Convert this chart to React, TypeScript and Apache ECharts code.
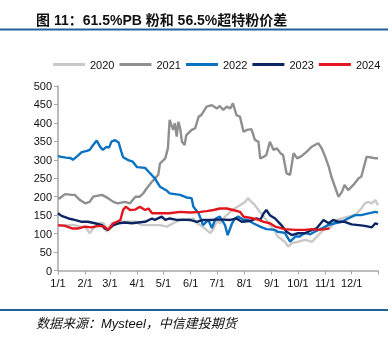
import React, { useEffect, useRef } from "react";
import * as echarts from "echarts";

// Day-of-year (0 = 1/1) and value pairs
const monthLengths = [31, 28, 31, 30, 31, 30, 31, 31, 30, 31, 30, 31];
const yTicks = { min: 0, max: 500, interval: 50 };
const seriesNames = ["2020", "2021", "2022", "2023", "2024"];

const s2020: [number, number][] = [
  [0, 120], [5, 123], [11, 123], [19, 123], [25, 119], [31, 119], [36, 101], [42, 119], [46, 128],
  [52, 128], [55, 105], [61, 128], [72, 132], [88, 132], [95, 123], [110, 123], [116, 123], [124, 119],
  [131, 128], [139, 137], [146, 137], [154, 141], [158, 128], [162, 123], [167, 114], [173, 101],
  [177, 114], [181, 137], [184, 128], [190, 146], [196, 159], [201, 168], [207, 177], [213, 186],
  [216, 196], [220, 186], [224, 177], [228, 164], [234, 146], [237, 137], [241, 123], [247, 105],
  [250, 92], [258, 78], [262, 65], [266, 74], [273, 78], [281, 83], [289, 78], [296, 96], [304, 114],
  [311, 119], [317, 137], [323, 141], [330, 146], [338, 150], [345, 168], [349, 182], [353, 186],
  [357, 182], [361, 191], [364, 177],
];

const s2021: [number, number][] = [
  [0, 196], [2, 196], [8, 207], [16, 205], [19, 205], [25, 191], [31, 182], [36, 186], [40, 200],
  [50, 205], [57, 196], [63, 186], [68, 182], [76, 186], [82, 182], [88, 200], [93, 200], [97, 209],
  [101, 223], [107, 241], [114, 259], [116, 290], [122, 304], [125, 331], [127, 408], [131, 381],
  [133, 399], [135, 363], [137, 403], [139, 385], [141, 349], [144, 340], [146, 367], [152, 381],
  [156, 385], [160, 417], [163, 421], [169, 444], [175, 448], [181, 439], [184, 446], [188, 435],
  [192, 444], [196, 439], [199, 453], [203, 421], [207, 417], [211, 376], [215, 381], [220, 383],
  [224, 354], [228, 349], [230, 304], [234, 308], [237, 313], [241, 349], [245, 327], [249, 331],
  [253, 318], [256, 313], [260, 263], [264, 259], [268, 318], [272, 304], [277, 310], [283, 322],
  [289, 336], [296, 345], [300, 331], [304, 308], [308, 281], [311, 254], [315, 227], [319, 200],
  [323, 213], [326, 232], [330, 218], [336, 232], [342, 250], [345, 254], [351, 308], [355, 307],
  [361, 304], [364, 304],
];

const s2022: [number, number][] = [
  [0, 310], [4, 308], [9, 306], [14, 305], [17, 300], [22, 310], [27, 321], [33, 324], [36, 327],
  [40, 340], [44, 352], [48, 335], [51, 327], [55, 335], [58, 333], [61, 350], [65, 353], [69, 347],
  [72, 322], [74, 307], [80, 299], [85, 295], [90, 280], [99, 278], [105, 263], [110, 250], [116, 227],
  [124, 216], [127, 209], [139, 205], [146, 198], [152, 196], [154, 173], [160, 155], [165, 123],
  [171, 137], [175, 115], [179, 140], [184, 146], [190, 123], [193, 96], [198, 128], [201, 140],
  [205, 146], [210, 139], [216, 137], [222, 128], [230, 119], [237, 112], [247, 110], [250, 105],
  [258, 102], [264, 78], [270, 92], [275, 92], [281, 102], [287, 98], [292, 105], [300, 114],
  [307, 123], [315, 128], [323, 132], [330, 141], [338, 150], [345, 150], [353, 155], [361, 159],
  [364, 157],
];

const s2023: [number, number][] = [
  [0, 155], [4, 148], [12, 141], [19, 137], [27, 132], [34, 132], [42, 128], [50, 123], [53, 114],
  [57, 110], [63, 123], [69, 128], [76, 130], [84, 128], [91, 130], [99, 132], [107, 141], [110, 137],
  [118, 146], [122, 137], [127, 141], [135, 137], [143, 138], [150, 137], [158, 132], [165, 137],
  [173, 137], [181, 138], [188, 138], [196, 137], [203, 141], [209, 132], [218, 134], [226, 141],
  [230, 137], [234, 155], [237, 164], [241, 150], [247, 141], [254, 123], [260, 105], [266, 96],
  [273, 101], [281, 101], [289, 110], [294, 114], [302, 137], [308, 128], [313, 137], [319, 132],
  [326, 132], [334, 125], [342, 123], [349, 121], [357, 117], [361, 128], [364, 125],
];

const s2024: [number, number][] = [
  [0, 123], [8, 121], [16, 114], [23, 114], [31, 119], [38, 117], [46, 121], [53, 119], [57, 110],
  [63, 128], [67, 132], [71, 137], [74, 164], [77, 173], [82, 164], [88, 165], [93, 173], [99, 164],
  [103, 168], [107, 155], [114, 155], [122, 155], [127, 155], [139, 159], [150, 157], [162, 159],
  [169, 161], [177, 164], [184, 168], [192, 168], [199, 164], [207, 159], [211, 146], [218, 143],
  [226, 139], [234, 132], [241, 128], [247, 119], [258, 112], [270, 110], [281, 110], [289, 112],
  [296, 110], [304, 112], [309, 114],
];

const seriesData = [s2020, s2021, s2022, s2023, s2024];
const colors = ["#C9C9C9", "#8F8F8F", "#0A72C2", "#0B2562", "#E3161D"];

const categories: string[] = [];
monthLengths.forEach((len, m) => {
  for (let d = 1; d <= len; d++) categories.push(`${m + 1}/${d}`);
});

export default function App() {
  const ref = useRef<HTMLDivElement>(null);
  useEffect(() => {
    if (!ref.current) return;
    const chart = echarts.init(ref.current, null, { renderer: "svg" });
    const font = "Liberation Sans, Arial, Noto Sans CJK SC, sans-serif";
    chart.setOption({
      animation: false,
      textStyle: { fontFamily: font },
      title: {
        text: "图 11：61.5%PB 粉和 56.5%超特粉价差",
        left: 31,
        top: 8,
        textStyle: { fontSize: 14, fontWeight: "bold", color: "#111", fontFamily: font },
      },
      legend: {
        top: 54,
        left: 48,
        icon: "rect",
        itemWidth: 32,
        itemHeight: 3,
        itemGap: 5,
        textStyle: { fontSize: 11, color: "#111", fontFamily: font },
        data: seriesNames,
      },
      grid: { left: 58, right: 14, top: 86, bottom: 78.5, containLabel: false },
      xAxis: {
        type: "category",
        data: categories,
        boundaryGap: false,
        axisLine: { lineStyle: { color: "#A6A6A6", width: 1.5 } },
        axisTick: {
          length: 4,
          lineStyle: { color: "#A6A6A6" },
          interval: (i: number, v: string) => /\/1$/.test(v) || i === categories.length - 1,
        },
        axisLabel: {
          interval: (_i: number, v: string) => /\/1$/.test(v),
          margin: 7,
          fontSize: 11,
          color: "#111",
          hideOverlap: false,
        },
      },
      yAxis: {
        type: "value",
        min: yTicks.min,
        max: yTicks.max,
        interval: yTicks.interval,
        splitLine: { show: false },
        axisLine: { show: true, lineStyle: { color: "#A6A6A6", width: 1.5 } },
        axisTick: { show: true, length: 4, lineStyle: { color: "#A6A6A6" } },
        axisLabel: { fontSize: 11, color: "#111", margin: 6 },
      },
      series: seriesNames.map((name, i) => ({
        name,
        type: "line",
        data: seriesData[i],
        showSymbol: false,
        symbol: "none",
        lineStyle: { width: 2.4, color: colors[i] },
        itemStyle: { color: colors[i] },
        z: 2 + i,
      })),
      graphic: [
        { type: "rect", left: 0, top: 28.5, shape: { width: 388, height: 2 }, style: { fill: "#22609A" } },
        { type: "rect", left: 0, top: 309, shape: { width: 388, height: 2 }, style: { fill: "#22609A" } },
        {
          type: "text",
          left: 36,
          top: 317,
          style: {
            text: "数据来源：Mysteel，中信建投期货",
            fontSize: 13,
            fontStyle: "italic",
            fill: "#111",
            fontFamily: font,
          },
        },
      ],
    });
    return () => chart.dispose();
  }, []);
  return <div ref={ref} style={{ position: "fixed", left: 0, top: 0, width: 392, height: 349 }} />;
}
